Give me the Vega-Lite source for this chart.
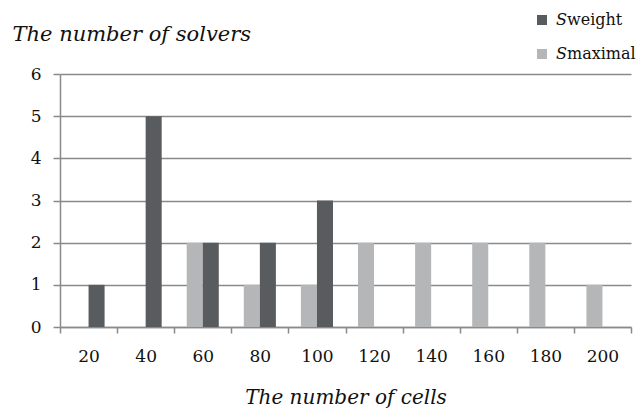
{
  "$schema": "https://vega.github.io/schema/vega-lite/v6.json",
  "width": 571,
  "height": 253,
  "autosize": {"type": "none"},
  "padding": {"left": 60, "top": 74, "right": 11, "bottom": 81},
  "background": "white",
  "data": {
    "values": [
      {"cells": "20", "series": "maximal", "solvers": 0},
      {"cells": "20", "series": "weight", "solvers": 1},
      {"cells": "40", "series": "maximal", "solvers": 0},
      {"cells": "40", "series": "weight", "solvers": 5},
      {"cells": "60", "series": "maximal", "solvers": 2},
      {"cells": "60", "series": "weight", "solvers": 2},
      {"cells": "80", "series": "maximal", "solvers": 1},
      {"cells": "80", "series": "weight", "solvers": 2},
      {"cells": "100", "series": "maximal", "solvers": 1},
      {"cells": "100", "series": "weight", "solvers": 3},
      {"cells": "120", "series": "maximal", "solvers": 2},
      {"cells": "120", "series": "weight", "solvers": 0},
      {"cells": "140", "series": "maximal", "solvers": 2},
      {"cells": "140", "series": "weight", "solvers": 0},
      {"cells": "160", "series": "maximal", "solvers": 2},
      {"cells": "160", "series": "weight", "solvers": 0},
      {"cells": "180", "series": "maximal", "solvers": 2},
      {"cells": "180", "series": "weight", "solvers": 0},
      {"cells": "200", "series": "maximal", "solvers": 1},
      {"cells": "200", "series": "weight", "solvers": 0}
    ]
  },
  "mark": {"type": "bar"},
  "encoding": {
    "x": {
      "field": "cells",
      "type": "ordinal",
      "sort": ["20","40","60","80","100","120","140","160","180","200"],
      "scale": {"paddingInner": 0, "paddingOuter": 0},
      "axis": {
        "title": "The number of cells",
        "titleFont": "DejaVu Serif",
        "titleFontStyle": "italic",
        "titleFontWeight": "normal",
        "titleFontSize": 20,
        "titleColor": "#111",
        "titlePadding": 23,
        "labelFont": "DejaVu Serif",
        "labelFontSize": 17,
        "labelColor": "#111",
        "labelAngle": 0,
        "labelPadding": 15,
        "tickBand": "extent",
        "tickSize": 6,
        "tickColor": "#8a8a8a",
        "tickWidth": 1.5,
        "domainColor": "#8a8a8a",
        "domainWidth": 1.5,
        "grid": false
      }
    },
    "xOffset": {
      "field": "series",
      "type": "nominal",
      "sort": ["maximal", "weight"],
      "scale": {"paddingInner": 0, "paddingOuter": 0.78}
    },
    "y": {
      "field": "solvers",
      "type": "quantitative",
      "scale": {"domain": [0, 6], "nice": false},
      "axis": {
        "values": [0,1,2,3,4,5,6],
        "title": "The number of solvers",
        "titleFont": "DejaVu Serif",
        "titleFontStyle": "italic",
        "titleFontWeight": "normal",
        "titleFontSize": 21,
        "titleColor": "#111",
        "titleAngle": 0,
        "titleAlign": "left",
        "titleBaseline": "alphabetic",
        "titleX": -48,
        "titleY": -34,
        "labelFont": "DejaVu Serif",
        "labelFontSize": 17,
        "labelColor": "#111",
        "labelPadding": 12,
        "tickSize": 7,
        "tickColor": "#8a8a8a",
        "tickWidth": 1.5,
        "domainColor": "#8a8a8a",
        "domainWidth": 1.5,
        "grid": true,
        "gridColor": "#8a8a8a",
        "gridWidth": 1.5
      }
    },
    "color": {
      "field": "series",
      "type": "nominal",
      "scale": {"domain": ["weight", "maximal"], "range": ["#595c5f", "#b5b6b7"]},
      "legend": {
        "title": null,
        "orient": "none",
        "legendX": 474,
        "legendY": -62,
        "symbolType": "square",
        "symbolSize": 100,
        "symbolStrokeWidth": 0,
        "rowPadding": 18,
        "labelOffset": 6,
        "labelFont": "DejaVu Serif",
        "labelFontSize": 16,
        "labelColor": "#111",
        "labelExpr": "'𝑆' + datum.label"
      }
    }
  },
  "config": {"view": {"stroke": null}}
}
